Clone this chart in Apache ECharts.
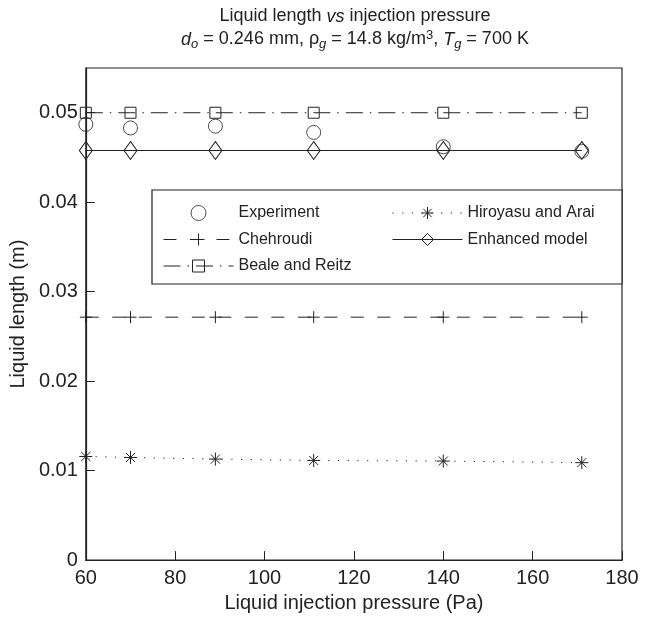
<!DOCTYPE html>
<html>
<head>
<meta charset="utf-8">
<script src="https://cdn.jsdelivr.net/npm/echarts@6/dist/echarts.min.js"></script>
<style>
  html, body { margin: 0; padding: 0; background: #fff; }
  #chart { width: 652px; height: 618px; }
</style>
</head>
<body>
<div id="chart"></div>
<script>
// injection pressure (Pa)
const pressure = [60, 70, 89, 111, 140, 171]

// liquid length (m)
const experiment = [0.0487, 0.0483, 0.0485, 0.0478, 0.0462, 0.0457]
const chehroudi = [0.02715, 0.02715, 0.02715, 0.02715, 0.02715, 0.02715]
const bealeReitz = [0.0500, 0.0500, 0.0500, 0.0500, 0.0500, 0.0500]
const hiroyasuArai = [0.01158, 0.01147, 0.01129, 0.01114, 0.01107, 0.01089]
const enhancedModel = [0.04578, 0.04578, 0.04578, 0.04578, 0.04578, 0.04578]

const legendLeft = ['Experiment', 'Chehroudi', 'Beale and Reitz']
const legendRight = ['Hiroyasu and Arai', 'Enhanced model']

const INK = '#222'
const FONT = 'Liberation Sans, Arial, sans-serif'

// marker shapes drawn as strokes
const PLUS = 'path://M5,0 L5,10 M0,5 L10,5'
const ASTERISK = 'path://M5,0 L5,10 M0,5 L10,5 M1.5,1.5 L8.5,8.5 M8.5,1.5 L1.5,8.5'

const pairs = (ys) => pressure.map((x, i) => [x, ys[i]])

const markerStyle = { color: 'transparent', borderColor: INK, borderWidth: 1 }

const chart = echarts.init(document.getElementById('chart'))

const legendBase = {
  orient: 'vertical',
  top: 205,
  padding: 0,
  itemWidth: 70,
  itemHeight: 15,
  itemGap: 10.5,
  selectedMode: false,
  textStyle: { fontSize: 16, color: INK, fontFamily: FONT },
  itemStyle: { borderWidth: 1 },
  lineStyle: { width: 1 }
}

const option = {
  animation: false,
  textStyle: { fontFamily: FONT, color: INK },
  title: {
    left: 355,
    top: 5,
    padding: 0,
    textAlign: 'center',
    text: '{n|Liquid length }{i|vs}{n| injection pressure}\n' +
      '{i|d}{sub|o}{n| = 0.246 mm, ρ}{sub|g}{n| = 14.8 kg/m}{sup|3}{n|, }{i|T}{sub|g}{n| = 700 K}',
    textStyle: {
      fontFamily: FONT,
      fontWeight: 'normal',
      lineHeight: 23,
      rich: {
        n: { fontSize: 18, color: INK, fontFamily: FONT },
        i: { fontSize: 18, color: INK, fontFamily: FONT, fontStyle: 'italic' },
        sub: { fontSize: 13, color: INK, fontFamily: FONT, fontStyle: 'italic', padding: [9, 0, 0, 0] },
        sup: { fontSize: 13, color: INK, fontFamily: FONT, padding: [0, 0, 9, 0] }
      }
    }
  },
  grid: {
    left: 84,
    right: 30,
    top: 68,
    bottom: 53,
    show: true,
    borderColor: INK,
    borderWidth: 1.2,
    backgroundColor: 'transparent'
  },
  legend: [
    Object.assign({}, legendBase, { data: legendLeft, left: 163 }),
    Object.assign({}, legendBase, { data: legendRight, left: 392 })
  ],
  graphic: [
    {
      type: 'rect',
      z: 3,
      shape: { x: 152, y: 190, width: 470, height: 94 },
      style: { fill: '#fff', stroke: INK, lineWidth: 1.2 }
    }
  ],
  xAxis: {
    type: 'value',
    min: 60,
    max: 180,
    interval: 20,
    name: 'Liquid injection pressure (Pa)',
    nameLocation: 'middle',
    nameGap: 28,
    nameTextStyle: { fontSize: 20, color: INK, fontFamily: FONT },
    axisLine: { lineStyle: { color: INK, width: 1.2 } },
    axisTick: { inside: true, length: 9, lineStyle: { color: INK } },
    axisLabel: { fontSize: 20, color: INK, margin: 8, fontFamily: FONT },
    splitLine: { show: false }
  },
  yAxis: {
    type: 'value',
    min: 0,
    max: 0.055,
    interval: 0.01,
    name: 'Liquid length (m)',
    nameLocation: 'middle',
    nameGap: 52,
    nameTextStyle: { fontSize: 20, color: INK, fontFamily: FONT },
    axisLine: { show: true, lineStyle: { color: INK, width: 1.2 } },
    axisTick: { inside: true, length: 9, lineStyle: { color: INK } },
    axisLabel: { fontSize: 20, color: INK, margin: 8, fontFamily: FONT, showMaxLabel: false },
    splitLine: { show: false }
  },
  series: [
    {
      name: 'Experiment',
      type: 'scatter',
      data: pairs(experiment),
      symbol: 'circle',
      symbolSize: 14,
      itemStyle: markerStyle,
      z: 4
    },
    {
      name: 'Chehroudi',
      type: 'line',
      data: pairs(chehroudi),
      symbol: PLUS,
      symbolSize: 12,
      showAllSymbol: true,
      itemStyle: markerStyle,
      lineStyle: { color: INK, width: 1, type: [13, 13.5] }
    },
    {
      name: 'Beale and Reitz',
      type: 'line',
      data: pairs(bealeReitz),
      symbol: 'rect',
      symbolSize: 11,
      showAllSymbol: true,
      itemStyle: markerStyle,
      lineStyle: { color: INK, width: 1, type: [17, 7, 1.5, 7] }
    },
    {
      name: 'Hiroyasu and Arai',
      type: 'line',
      data: pairs(hiroyasuArai),
      symbol: ASTERISK,
      symbolSize: 13,
      showAllSymbol: true,
      itemStyle: markerStyle,
      lineStyle: { color: INK, width: 1, type: [1.2, 8.5] }
    },
    {
      name: 'Enhanced model',
      type: 'line',
      data: pairs(enhancedModel),
      symbol: 'diamond',
      symbolSize: [13, 18],
      showAllSymbol: true,
      itemStyle: markerStyle,
      lineStyle: { color: INK, width: 1.2, type: 'solid' }
    }
  ]
}

chart.setOption(option)

window.addEventListener('resize', () => {
  chart.resize()
})
</script>
</body>
</html>
